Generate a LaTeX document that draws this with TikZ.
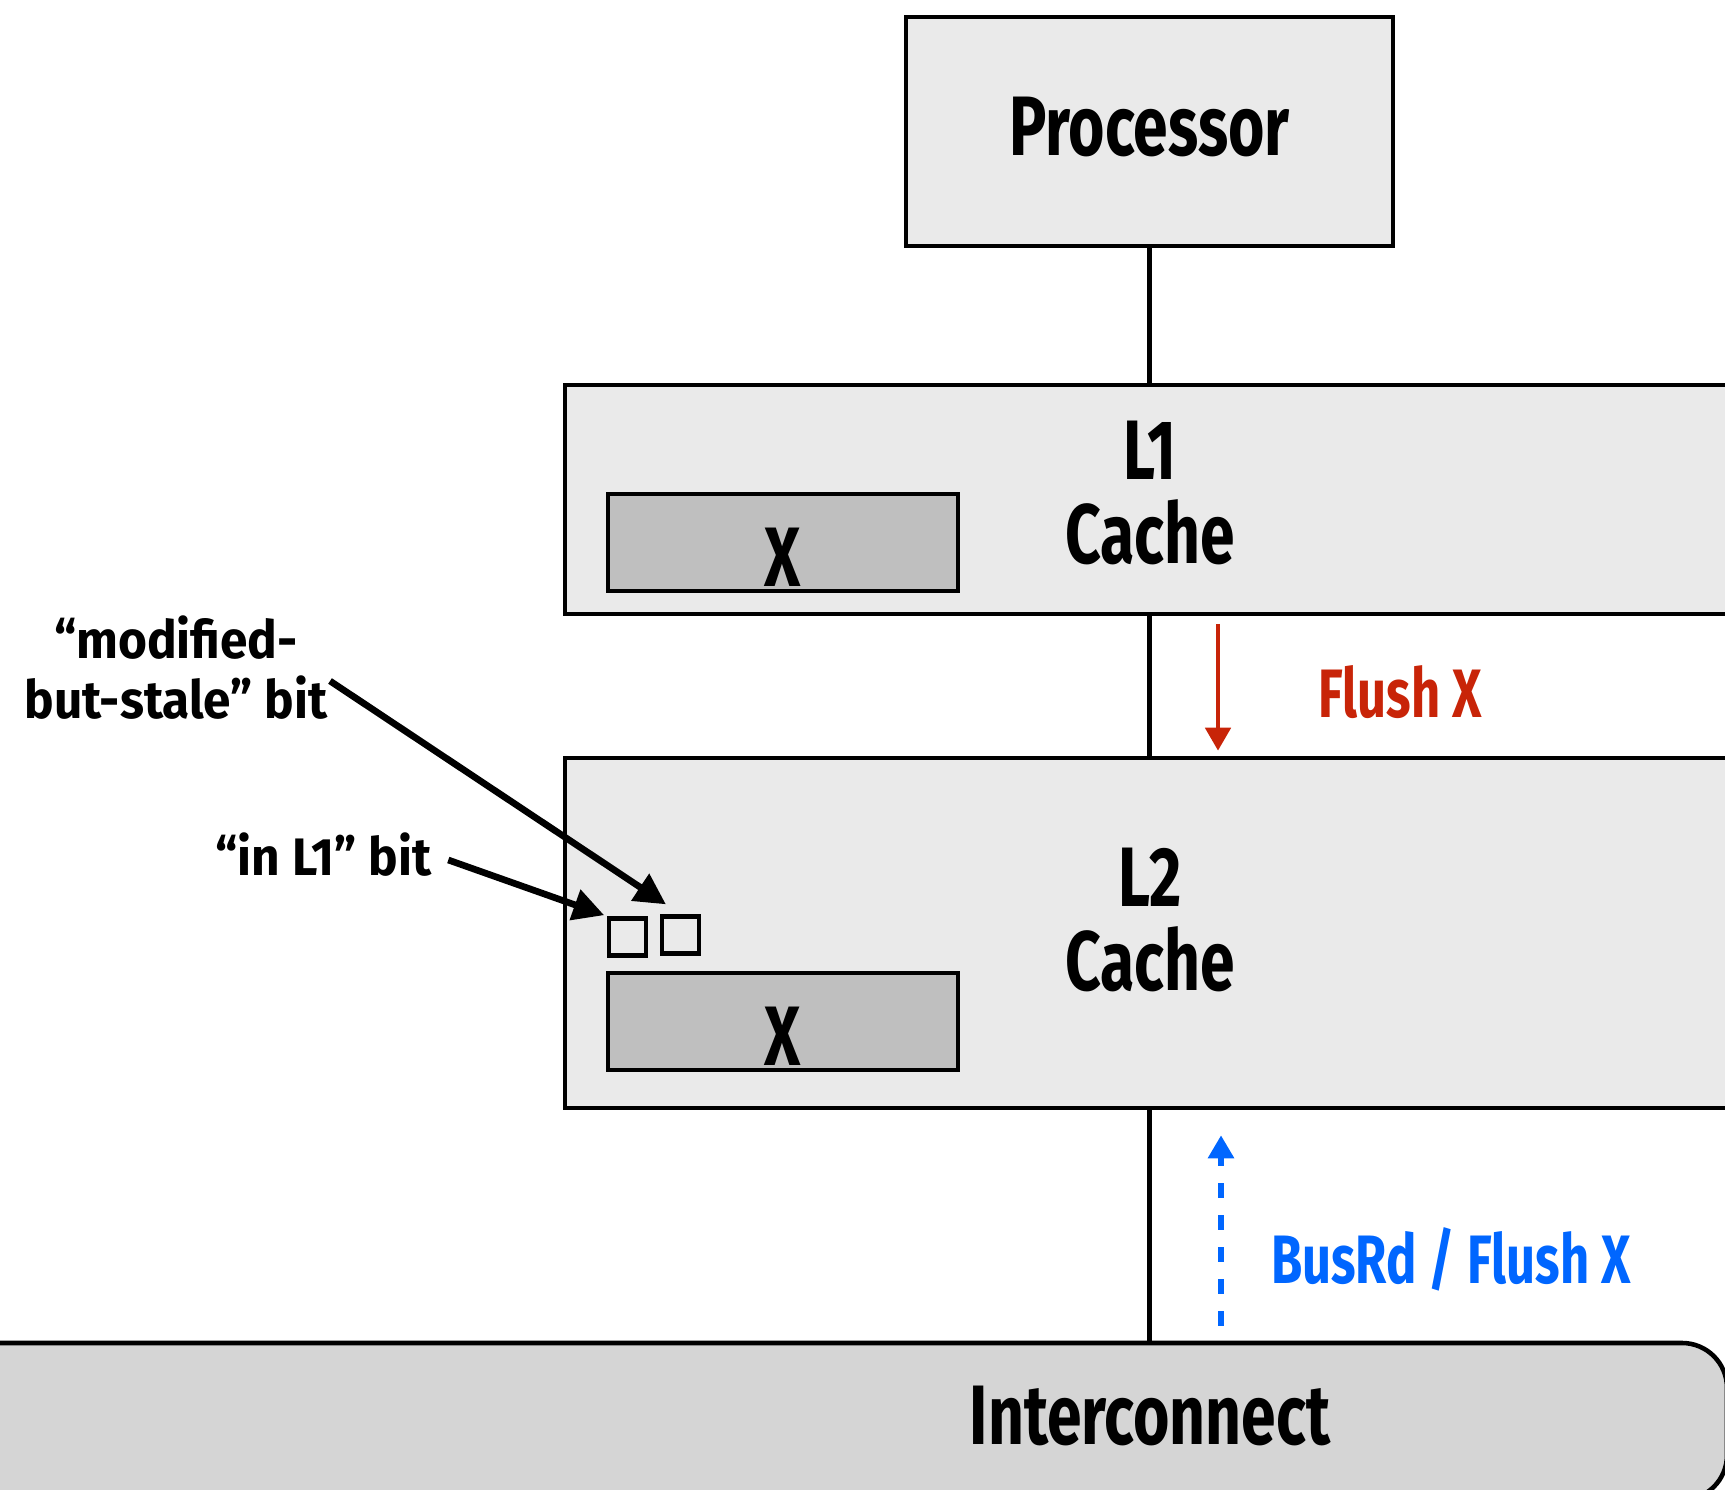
\documentclass[tikz,border=0pt]{standalone}
\usepackage{fontspec}
\setmainfont[FakeStretch=0.74]{Fira Sans}
\newfontfamily\notefont[FakeStretch=0.94]{Fira Sans}
\usepackage{xcolor}
\usepackage{tikz}
\usetikzlibrary{arrows.meta,shapes,shapes.geometric}
\usetikzlibrary{positioning, quotes}

\definecolor{unitgray}{HTML}{EAEAEA}
\definecolor{linegray}{HTML}{BFBFBF}
\definecolor{busgray}{HTML}{D5D5D5}
\definecolor{flushred}{RGB}{200,36,8}
\definecolor{busblue}{RGB}{0,102,255}

\begin{document}
\begin{tikzpicture}
    \tikzstyle{every node}=[font=\bfseries\fontsize{48}{48}\selectfont, inner sep=0.05cm];
    \tikzstyle{unit}=[draw, line width=2.6pt, fill=unitgray];
    \tikzstyle{cacheline}=[draw, line width=2.6pt, fill=linegray, minimum width=7cm, minimum height=1.94cm];
    \tikzstyle{bitbox}=[draw, line width=2.8pt, fill=unitgray, minimum size=0.74cm, inner sep=0pt];
    \tikzstyle{note}=[align=center, font=\notefont\bfseries\fontsize{30}{34}\selectfont];
    \tikzstyle{pointer}=[line width=3.8pt, -{Triangle[length=0.62cm, width=0.62cm]}];
    \useasboundingbox (0,0) rectangle (34.5,29.8);
    \clip (0,0) rectangle (34.5,29.8);
    % boxes
    \node[draw, line width=2.6pt, fill=busgray, rounded corners=0.9cm, minimum width=35.54cm, minimum height=3.14cm] (bus) at (16.77, 1.37) {};
    \node[unit, minimum width=9.74cm, minimum height=4.58cm, text depth=0.2cm] (proc) at (22.99, 27.17) {Processor};
    \node[unit, minimum width=24.7cm, minimum height=4.58cm] (l1) at (23.65, 19.81) {};
    \node[unit, minimum width=24.7cm, minimum height=7cm] (l2) at (23.65, 11.14) {};
    \node[align=center] (l1txt) at (23.0, 19.94) {L1\\Cache};
    \node[align=center] (l2txt) at (23.0, 11.4) {L2\\Cache};
    \node (bustxt) at (23.0, 1.48) {Interconnect};
    \node[cacheline] (l1line) at (15.66, 18.95) {};
    \node[cacheline] (l2line) at (15.66, 9.37) {};
    \node[anchor=base] (l1x) at ([yshift=0.14cm]l1line.south) {X};
    \node[anchor=base] (l2x) at ([yshift=0.14cm]l2line.south) {X};
    \node[bitbox] (inl1) at (12.55, 11.06) {};
    \node[bitbox] (stale) at (13.61, 11.1) {};
    % labels
    \node[note] (stalelbl) at (3.52, 16.45) {“modified-\\but-stale” bit};
    \node[note] (inl1lbl) at (6.47, 12.7) {“in L1” bit};
    \node[text=flushred, font=\bfseries\fontsize{39}{39}\selectfont] (flushlbl) at (28.0, 15.96) {Flush X};
    \node[text=busblue, font=\bfseries\fontsize{39}{39}\selectfont] (busrdlbl) at (29.02, 4.62) {BusRd / Flush X};
    % wires
    \coordinate (fl) at (24.36, 17.32);
    \coordinate (rd) at (24.42, 3.24);
    \path[draw] [line width=2.8pt] (proc) -- (proc |- l1.north);
    \path[draw] [line width=2.8pt] (proc |- l1.south) -- (proc |- l2.north);
    \path[draw] [line width=2.8pt] (proc |- l2.south) -- (proc |- bus.north);
    \path[draw] [flushred, line width=2.8pt, -{Triangle[length=0.46cm, width=0.5cm]}, shorten >=0.1cm] (fl) -- (fl |- l2.north);
    \path[draw] [busblue, line width=3.4pt, dash pattern=on 0.3cm off 0.34cm, -{Triangle[length=0.46cm, width=0.5cm]}, shorten <=0.3cm, shorten >=0.5cm] (rd |- bus.north) -- (rd |- l2.south);
    \path[draw] [pointer, shorten >=0.35cm] ([yshift=-0.27cm]stalelbl.east) -- (stale.north);
    \path[draw] [pointer, shorten <=0.3cm, shorten >=0.05cm] (inl1lbl.east) -- (inl1.north west);
\end{tikzpicture}
\end{document}
